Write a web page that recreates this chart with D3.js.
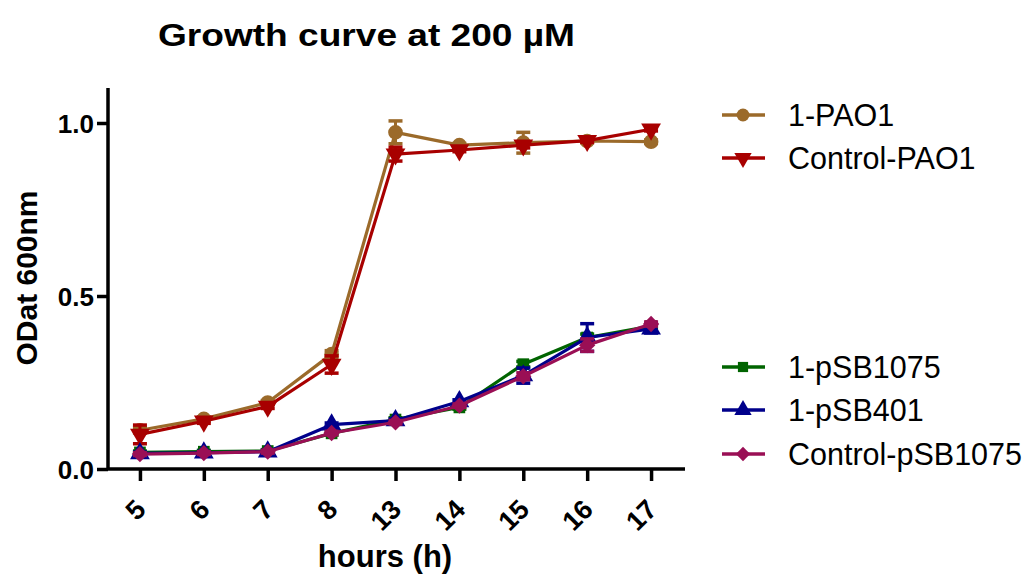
<!DOCTYPE html>
<html><head><meta charset="utf-8">
<script src="https://cdn.jsdelivr.net/npm/d3@7"></script>
<style>body{margin:0;background:#fff}svg{display:block;font-family:"Liberation Sans",Arial,sans-serif}</style>
</head><body>
<svg id="c" width="1030" height="574"></svg>
<script>
const hours = ["5","6","7","8","13","14","15","16","17"];
const yTicks = [0, 0.5, 1.0];
const seriesNames = ["1-PAO1","Control-PAO1","1-pSB1075","1-pSB401","Control-pSB1075"];
const pao1 = [0.112,0.145,0.192,0.332,0.973,0.936,0.943,0.948,0.946];
const pao1Err = [0.008,0.006,0.006,0.01,0.033,0.005,0.03,0.005,0.005];
const ctrlPao1 = [0.1,0.138,0.181,0.302,0.91,0.922,0.936,0.949,0.982];
const ctrlPao1Err = [0.027,0.006,0.006,0.025,0.02,0.005,0.008,0.005,0.005];
const psb1075 = [0.048,0.05,0.052,0.103,0.143,0.178,0.303,0.38,0.413];
const psb1075Err = [0.004,0.004,0.004,0.005,0.005,0.005,0.008,0.01,0.006];
const psb401 = [0.045,0.047,0.05,0.128,0.14,0.195,0.27,0.38,0.405];
const psb401Err = [0.004,0.004,0.004,0.005,0.005,0.005,0.022,0.04,0.012];
const ctrlPsb = [0.043,0.046,0.05,0.104,0.135,0.183,0.268,0.358,0.419];
const ctrlPsbErr = [0.004,0.004,0.004,0.005,0.005,0.005,0.01,0.018,0.006];
const colors = ["#9B6A2A","#A80000","#006400","#00008B","#9A0F55"];
const shapes = [d3.symbolCircle, "down", d3.symbolSquare, d3.symbolTriangle, d3.symbolDiamond2];

const series = [pao1, ctrlPao1, psb1075, psb401, ctrlPsb];
const errs = [pao1Err, ctrlPao1Err, psb1075Err, psb401Err, ctrlPsbErr];

const svg = d3.select("#c");
const x = d3.scalePoint().domain(hours).range([108, 683]).padding(0.5);
const y = d3.scaleLinear().domain([0, 1.1]).range([469, 88.4]);

// title
svg.append("text").attr("x", 158).attr("y", 46)
  .attr("font-size", 32).attr("font-weight","bold")
  .attr("textLength", 417).attr("lengthAdjust","spacingAndGlyphs")
  .text("Growth curve at 200 \u00B5M");

// axes
const yAxis = svg.append("g").attr("transform","translate(108,0)")
  .call(d3.axisLeft(y).tickValues(yTicks).tickFormat(d3.format(".1f")).tickSize(11).tickPadding(3));
const xAxis = svg.append("g").attr("transform","translate(0,469)")
  .call(d3.axisBottom(x).tickSize(12));
[yAxis, xAxis].forEach(g => {
  g.select(".domain").attr("stroke","#000").attr("stroke-width",3.5);
  g.selectAll(".tick line").attr("stroke","#000").attr("stroke-width",3.5);
});
xAxis.select(".domain").attr("d","M108,0H685");
yAxis.select(".domain").attr("d","M0,88H0V469");
yAxis.selectAll(".tick text").attr("font-size",26).attr("font-weight","bold")
  .attr("font-family","'Liberation Sans',Arial,sans-serif").attr("fill","#000").attr("dy","0.36em");
xAxis.selectAll(".tick text").attr("font-size",27).attr("font-weight","bold")
  .attr("font-family","'Liberation Sans',Arial,sans-serif").attr("fill","#000")
  .attr("text-anchor","end").attr("dy",0).attr("y",0)
  .attr("transform","translate(7,42) rotate(-45)");

// axis titles
svg.append("text").attr("transform","translate(37,278) rotate(-90)").attr("text-anchor","middle")
  .attr("font-size",30).attr("font-weight","bold").text("ODat 600nm");
svg.append("text").attr("x",385).attr("y",567).attr("text-anchor","middle")
  .attr("font-size",31).attr("font-weight","bold").text("hours (h)");

function marker(sel, i, size) {
  if (shapes[i] === "down") {
    sel.attr("d", d3.symbol(d3.symbolTriangle).size(size*1.0)).attr("transform", function(){ return d3.select(this).attr("transform") + " rotate(180)"; });
  } else {
    const s = shapes[i] === d3.symbolSquare ? size*0.8 : shapes[i] === d3.symbolDiamond2 ? size*1.0 : size;
    sel.attr("d", d3.symbol(shapes[i]).size(s));
  }
}

const line = d3.line().x((d,j) => x(hours[j])).y(d => y(d));
series.forEach((vals, i) => {
  const g = svg.append("g");
  const c = colors[i];
  // error bars
  vals.forEach((v, j) => {
    const e = errs[i][j];
    const cx = x(hours[j]);
    g.append("line").attr("x1",cx).attr("x2",cx).attr("y1",y(v+e)).attr("y2",y(v-e)).attr("stroke",c).attr("stroke-width",3);
    [v+e, v-e].forEach(w => g.append("line").attr("x1",cx-7).attr("x2",cx+7).attr("y1",y(w)).attr("y2",y(w)).attr("stroke",c).attr("stroke-width",3.5));
  });
  g.append("path").datum(vals).attr("d", line).attr("fill","none").attr("stroke",c).attr("stroke-width",3.2).attr("stroke-linejoin","round");
  g.selectAll("path.m").data(vals).enter().append("path").attr("class","m")
    .attr("transform",(d,j) => `translate(${x(hours[j])},${y(d)})`)
    .attr("fill", c)
    .call(sel => marker(sel, i, 170));
});

// legend
const legY = [115, 158, 367, 410, 454];
seriesNames.forEach((name, i) => {
  const g = svg.append("g").attr("transform", `translate(0,${legY[i]})`);
  g.append("line").attr("x1",722).attr("x2",765).attr("y1",0).attr("y2",0).attr("stroke",colors[i]).attr("stroke-width",3.5);
  g.append("path").attr("transform","translate(743,0)").attr("fill",colors[i]).call(sel => marker(sel, i, 130));
  g.append("text").attr("x",788).attr("y",0).attr("dy","0.36em").attr("font-size",30.5).text(name);
});
</script>
</body></html>
